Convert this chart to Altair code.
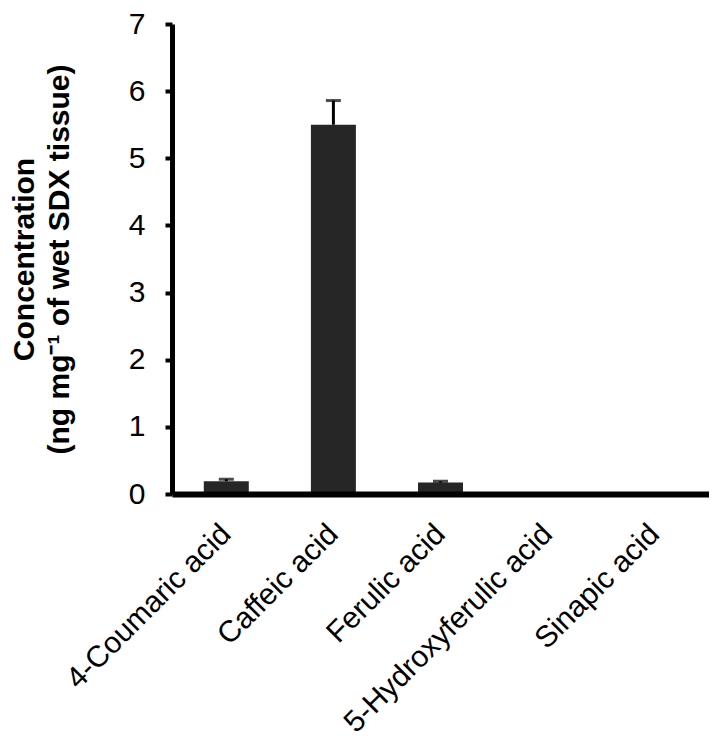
import altair as alt
import pandas as pd

categories = ["4-Coumaric acid", "Caffeic acid", "Ferulic acid", "5-Hydroxyferulic acid", "Sinapic acid"]
means = [0.19, 5.50, 0.17, 0.0, 0.0]
errors = [0.03, 0.36, 0.02, 0.0, 0.0]

df = pd.DataFrame({"acid": categories, "mean": means, "err": errors})
df["upper"] = df["mean"] + df["err"]
err_df = df[df["err"] > 0]

FONT = "Liberation Sans"
BAR = "#262626"

x_enc = alt.X(
    "acid:N",
    sort=categories,
    scale=alt.Scale(paddingInner=0.586, paddingOuter=0.3),
    axis=alt.Axis(
        title=None,
        labelAngle=-45,
        labelAlign="right",
        labelBaseline="middle",
        labelPadding=35,
        labelLimit=0,
        ticks=False,
        domainColor="black",
        domainWidth=6,
        labelFont=FONT,
        labelFontSize=30,
        labelColor="black",
        zindex=1,
    ),
)

y_scale = alt.Scale(domain=[0, 7], nice=False, zero=True)

bars = alt.Chart(df).mark_bar(color=BAR, size=45).encode(
    x=x_enc,
    y=alt.Y(
        "mean:Q",
        scale=y_scale,
        axis=alt.Axis(
            title=["Concentration", "(ng mg\u207b\u00b9 of wet SDX tissue)"],
            titleFont=FONT,
            titleFontSize=30,
            titleFontWeight="bold",
            titleColor="black",
            titlePadding=54,
            titleLineHeight=35,
            values=[0, 1, 2, 3, 4, 5, 6, 7],
            format="d",
            grid=False,
            domainColor="black",
            domainWidth=5,
            tickColor="black",
            tickSize=7,
            tickWidth=4,
            labelFont=FONT,
            labelFontSize=30,
            labelColor="black",
            labelPadding=20,
            zindex=1,
        ),
    ),
)

stems = alt.Chart(err_df).mark_rule(color="black", strokeWidth=3).encode(
    x=alt.X("acid:N", sort=categories),
    y=alt.Y("mean:Q", scale=y_scale),
    y2="upper:Q",
)

caps = alt.Chart(err_df).mark_tick(color="black", size=15, thickness=3, orient="horizontal").encode(
    x=alt.X("acid:N", sort=categories),
    y=alt.Y("upper:Q", scale=y_scale),
)

chart = (
    alt.layer(bars, stems, caps)
    .properties(
        width=701,
        height=730,
        background="white",
        padding={"left": 1, "top": 1, "right": 0, "bottom": 0},
        autosize=alt.AutoSizeParams(type="fit", contains="padding"),
    )
    .configure_view(stroke=None)
)

chart.save("out.html", embed_options={"renderer": "svg", "actions": False})
